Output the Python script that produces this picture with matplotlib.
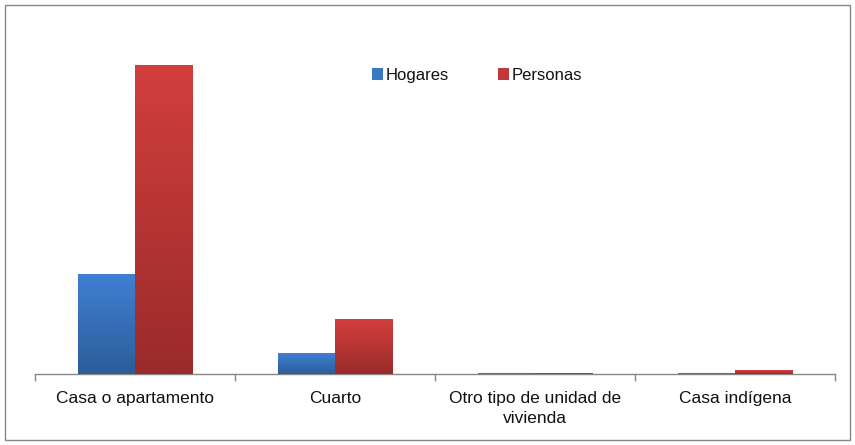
import matplotlib
matplotlib.use("Agg")
import matplotlib.pyplot as plt
import numpy as np
from matplotlib.colors import LinearSegmentedColormap
from matplotlib.patches import Rectangle

# Data (arbitrary units)
categorias = ["Casa o apartamento", "Cuarto", "Otro tipo de unidad de\nvivienda", "Casa indígena"]
hogares = [100, 21, 0.6, 0.4]
personas = [309, 55, 0.9, 4]
series = ["Hogares", "Personas"]

plt.rcParams["font.family"] = ["Liberation Sans", "DejaVu Sans"]

fig = plt.figure(figsize=(8.55, 4.45), dpi=100)
ax = fig.add_axes([0.041, 0.1596, 0.936, 0.795])

# Outer chart border
fig.patches.append(Rectangle((0.006, 0.011), 0.988, 0.978, transform=fig.transFigure,
                             fill=False, edgecolor="#868686", linewidth=1.0))

x = np.arange(len(categorias))
w = 0.285
blue_cmap = LinearSegmentedColormap.from_list("b", ["#2C5D9A", "#3F80D2"])
red_cmap = LinearSegmentedColormap.from_list("r", ["#9A2B2B", "#D23F3D"])

bars_h = ax.bar(x - w / 2, hogares, w, color="#3A78C6", label=series[0], zorder=2)
bars_p = ax.bar(x + w / 2, personas, w, color="#C0393A", label=series[1], zorder=2)

# Vertical gradient over each bar
grad = np.linspace(0, 1, 256).reshape(-1, 1)
for bars, cmap in ((bars_h, blue_cmap), (bars_p, red_cmap)):
    for b in bars:
        x0, y0 = b.get_x(), b.get_y()
        ax.imshow(grad, extent=[x0, x0 + b.get_width(), y0, y0 + b.get_height()],
                  origin="lower", aspect="auto", cmap=cmap, zorder=3)

ax.set_xlim(-0.5, len(categorias) - 0.5)
ax.set_ylim(0, 354)

for s in ["top", "right", "left"]:
    ax.spines[s].set_visible(False)
ax.spines["bottom"].set_color("#868686")
ax.spines["bottom"].set_linewidth(1.0)
ax.set_yticks([])

ax.set_xticks(x)
ax.set_xticklabels(categorias, fontsize=12.5, color="#111111", linespacing=1.45)
ax.tick_params(axis="x", length=0, pad=12)
ax.set_xticks(np.arange(-0.5, len(categorias)), minor=True)
ax.tick_params(axis="x", which="minor", length=5, color="#868686", width=1.0)

leg = ax.legend(loc="center left", bbox_to_anchor=(0.402, 0.845), ncol=2, frameon=False,
                fontsize=12, handlelength=0.7, handleheight=0.7, handletextpad=0.15,
                columnspacing=2.9)
for t in leg.get_texts():
    t.set_color("#111111")

fig.savefig("out.png", dpi=100)
